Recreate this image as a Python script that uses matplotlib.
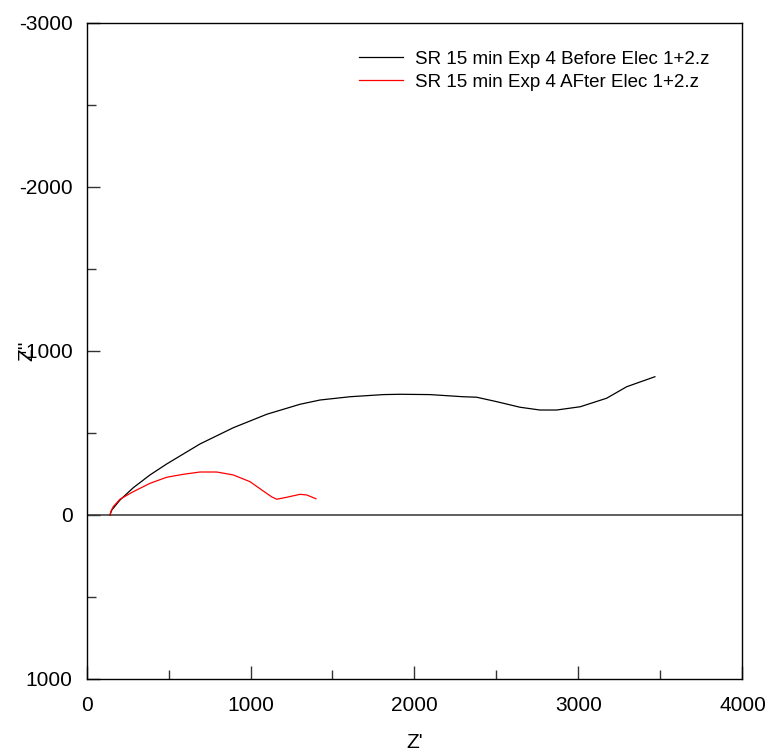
import matplotlib.pyplot as plt
import numpy as np

# ---- data (Z' , Z'') ----
z_re_before = [143, 154, 204, 285, 387, 489, 692, 895, 1099, 1302, 1424, 1607, 1810,
               1912, 2095, 2296, 2379, 2501, 2643, 2765, 2867, 3011, 3172, 3294, 3466]
z_im_before = [0, -30, -91, -166, -244, -311, -433, -532, -614, -675, -701, -721, -734,
               -736, -734, -721, -718, -691, -657, -640, -640, -660, -712, -782, -843]

z_re_after = [143, 150, 163, 204, 285, 387, 489, 590, 692, 794, 895, 997, 1078,
              1130, 1160, 1221, 1302, 1343, 1399]
z_im_after = [0, -25, -51, -96, -142, -193, -230, -248, -262, -262, -244, -203, -146,
              -110, -96, -108, -126, -122, -99]

labels = ['SR 15 min Exp 4 Before Elec 1+2.z', 'SR 15 min Exp 4 AFter Elec 1+2.z']
x_ticks = [0, 1000, 2000, 3000, 4000]
y_ticks = [-3000, -2000, -1000, 0, 1000]

plt.rcParams['font.family'] = ['Liberation Sans', 'DejaVu Sans']
plt.rcParams['axes.unicode_minus'] = False

fig = plt.figure(figsize=(7.69, 7.53), dpi=100)
ax = fig.add_axes([0.1125, 0.0983, 0.853, 0.8712])

ax.axhline(0, color='#444444', linewidth=1.2, zorder=1)
ax.plot(z_re_before, z_im_before, color='black', linewidth=0.9, label=labels[0])
ax.plot(z_re_after, z_im_after, color='red', linewidth=0.9, label=labels[1])

ax.set_xlim(0, 4000)
ax.set_ylim(1000, -3000)
ax.set_xticks(x_ticks)
ax.set_yticks(y_ticks)
ax.set_xticks(np.arange(500, 4000, 1000), minor=True)
ax.set_yticks(np.arange(-2500, 1000, 1000), minor=True)

ax.tick_params(which='both', direction='in', top=False, right=False,
               labelsize=15, width=1, color='#333333')
ax.tick_params(which='major', length=9.5, pad=10)
ax.tick_params(which='minor', length=6.5)
ax.tick_params(axis='x', which='major', pad=12)

for sp in ax.spines.values():
    sp.set_linewidth(1)

ax.set_xlabel("Z'", fontsize=15)
ax.set_ylabel("Z''", fontsize=15)
ax.xaxis.set_label_coords(0.5, -0.083)
ax.yaxis.set_label_coords(-0.077, 0.5)

ax.legend(loc='upper left', bbox_to_anchor=(0.4154, 0.958), frameon=False,
          fontsize=13.5, handlelength=2.35, handletextpad=0.64,
          borderaxespad=0, borderpad=0, labelspacing=0.33)

plt.savefig('out.png', dpi=100)
